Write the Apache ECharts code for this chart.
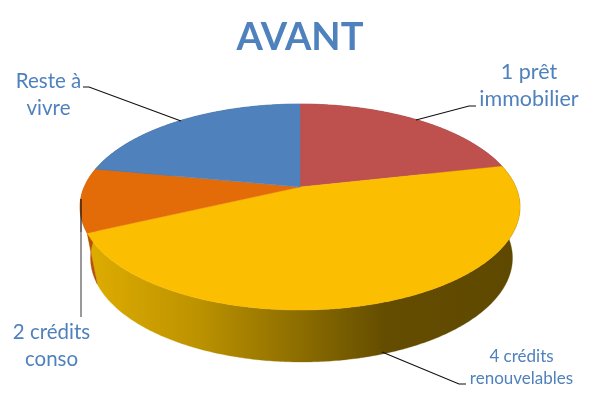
<!DOCTYPE html>
<html>
<head>
<meta charset="utf-8">
<style>html,body{margin:0;padding:0;background:#fff}#c{width:600px;height:400px}</style>
<script src="https://cdn.jsdelivr.net/npm/echarts@6/dist/echarts.min.js"></script>
</head>
<body>
<div id="c"></div>
<script>
const titleText = 'AVANT';
const categories = ['1 prêt immobilier', '4 crédits renouvelables', '2 crédits conso', 'Reste à vivre'];
const values = [21.5, 46.5, 10, 22];
const topColors = ['#BE504E', '#FCBE00', '#E36C09', '#4F81BD'];
const sideColors = ['#7F3534', null, '#B45308', '#345681'];

const total = values.reduce((a, b) => a + b, 0);
// perspective disc: unit circle mapped so the pie centre sits above the ellipse centre
const tilt = 0.194;
const topDisc = { cx: 300, cy: 207, rx: 220, ry: 103 };
const baseDisc = { cx: 301.5, cy: 258, rx: 211, ry: 104 };
function project(disc, theta) {
  const u = Math.sin(theta), v = -Math.cos(theta);
  const d = 1 - tilt * v;
  return [disc.cx + disc.rx * u * Math.sqrt(1 - tilt * tilt) / d,
          disc.cy + disc.ry * (v - tilt) / d];
}
function arc(disc, a0, a1) {
  const n = Math.max(2, Math.ceil((a1 - a0) / 0.01));
  const pts = [];
  for (let i = 0; i <= n; i++) pts.push(project(disc, a0 + (a1 - a0) * i / n));
  return pts;
}
const yellowSide = new echarts.graphic.LinearGradient(88, 0, 512, 0, [
  { offset: 0, color: '#DFAD00' },
  { offset: 0.26, color: '#BC9200' },
  { offset: 0.5, color: '#8C6D00' },
  { offset: 0.70, color: '#644D00' },
  { offset: 1, color: '#5F4900' }
], true);

function renderSlice(params, api) {
  const i = params.dataIndex;
  let before = 0;
  for (let k = 0; k < i; k++) before += values[k];
  const a0 = before / total * Math.PI * 2;
  const a1 = (before + api.value(0)) / total * Math.PI * 2;
  const topArc = arc(topDisc, a0, a1);
  const baseArc = arc(baseDisc, a0, a1);
  const sideFill = sideColors[i] || yellowSide;
  const centre = [topDisc.cx, topDisc.cy - topDisc.ry * tilt];
  return {
    type: 'group',
    children: [
      { type: 'polygon', z2: 1, shape: { points: topArc.concat(baseArc.slice().reverse()) },
        style: { fill: sideFill, stroke: sideFill, lineWidth: 0.3 } },
      { type: 'polygon', z2: 2, shape: { points: [centre].concat(topArc) },
        style: { fill: topColors[i], stroke: topColors[i], lineWidth: 0.4 } }
    ]
  };
}

const labelColor = '#4F81BD';
const font = 'Lato, "Open Sans", sans-serif';
function lineEl(points, color) {
  return { type: 'polyline', z: 5, shape: { points }, style: { stroke: color || '#111', lineWidth: 1.2, fill: null } };
}
function textEl(text, x, y, size) {
  return { type: 'text', z: 6, x, y, style: { text, fill: labelColor, font: size + 'px ' + font, textAlign: 'center', textVerticalAlign: 'middle' } };
}

const chart = echarts.init(document.getElementById('c'), null, { renderer: 'canvas' });
chart.setOption({
  animation: false,
  backgroundColor: '#fff',
  title: { text: titleText, left: 'center', top: 14,
    textStyle: { color: labelColor, fontFamily: font, fontWeight: 'bold', fontSize: 38 } },
  series: [{
    type: 'custom',
    coordinateSystem: 'none',
    silent: true,
    renderItem: renderSlice,
    data: values.map((v, i) => ({ name: categories[i], value: [v] }))
  }],
  graphic: [
    lineEl([[83, 87], [89, 87], [181, 121]]),
    lineEl([[476, 106], [469, 106], [416, 120]]),
    lineEl([[81, 199], [81, 232]]),
    lineEl([[81, 232], [81, 317]], '#555'),
    lineEl([[382, 352], [459, 384], [466, 384]]),
    textEl('Reste à', 48.5, 81, 20.5),
    textEl('vivre', 48.5, 108, 20.5),
    textEl('1 prêt', 529, 72, 21.5),
    textEl('immobilier', 529, 99, 21.5),
    textEl('2 crédits', 51.5, 332, 20.5),
    textEl('conso', 51.5, 359, 20.5),
    textEl('4 crédits', 521.5, 357, 17),
    textEl('renouvelables', 521.5, 379, 17)
  ]
});
</script>
</body>
</html>
